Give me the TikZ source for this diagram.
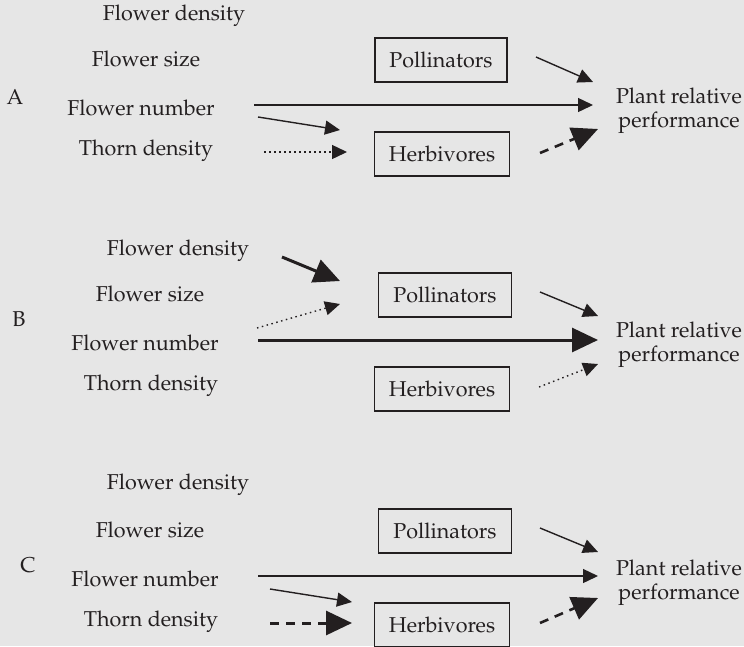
\documentclass[tikz,border=0pt]{standalone}
\usepackage[T1]{fontenc}
\renewcommand{\rmdefault}{ppl}
\usetikzlibrary{arrows.meta}
\definecolor{ink}{HTML}{231F20}
\definecolor{bg}{HTML}{E6E6E6}
\tikzset{
  lbl/.style={font=\fontsize{21.5}{24}\selectfont, text=ink, inner sep=0pt},
  box/.style={lbl, draw=ink, line width=1.2pt, minimum height=44pt},
  thinarrow/.style={draw=ink, line width=1.4pt, -{Triangle[length=15pt,width=14pt]}},
  bigarrow/.style={draw=ink, line width=1.6pt, -{Triangle[length=26pt,width=24pt]}},
  boldarrow/.style={draw=ink, line width=3pt, -{Triangle[length=26pt,width=24pt]}},
  dotline/.style={dash pattern=on 1.5pt off 3.5pt},
  dashline/.style={dash pattern=on 9pt off 7pt},
}
\begin{document}
\begin{tikzpicture}[x=1pt,y=-1pt]
\fill[bg] (0,0) rectangle (744,646);
\useasboundingbox (0,0) rectangle (744,646);

% ---------- Panel A ----------
\node[lbl] (fdA) at (174,16) {Flower density};
\node[lbl] (fsA) at (146,59) {Flower size};
\node[lbl] (labA) at (15,97) {A};
\node[lbl] (fnA) at (141,108) {Flower number};
\node[lbl] (tdA) at (146,151) {Thorn density};
\node[box, minimum width=132pt] (polA) at (441,60) {Pollinators};
\node[box, minimum width=135pt] (herbA) at (442,154) {Herbivores};
\node[lbl, align=center] (plantA) at (679,111) {Plant relative\\performance};
\coordinate (a1s) at (254,105); \coordinate (a1e) at (593,105);
\coordinate (a2s) at (258,117); \coordinate (a2e) at (340,130);
\coordinate (a3s) at (264,152); \coordinate (a3e) at (347,152);
\coordinate (a4s) at (536,57);  \coordinate (a4e) at (593,82);
\coordinate (a5s) at (540,153); \coordinate (a5e) at (598,129);
\draw[thinarrow] (a1s) -- (a1e);
\draw[thinarrow] (a2s) -- (a2e);
\draw[thinarrow, dotline] (a3s) -- (a3e);
\draw[thinarrow] (a4s) -- (a4e);
\draw[bigarrow, line width=2.6pt, dashline] (a5s) -- (a5e);

% ---------- Panel B ----------
\node[lbl] (fdB) at (178,251) {Flower density};
\node[lbl] (fsB) at (150,294) {Flower size};
\node[lbl] (labB) at (19,319) {B};
\node[lbl] (fnB) at (145,343) {Flower number};
\node[lbl] (tdB) at (151,386) {Thorn density};
\node[box, minimum width=133pt] (polB) at (445,295) {Pollinators};
\node[box, minimum width=135pt] (herbB) at (442,389) {Herbivores};
\node[lbl, align=center] (plantB) at (679,345) {Plant relative\\performance};
\coordinate (b1s) at (282,257); \coordinate (b1e) at (340,281);
\coordinate (b2s) at (257,328); \coordinate (b2e) at (340,304);
\coordinate (b3s) at (258,340); \coordinate (b3e) at (598,340);
\coordinate (b4s) at (540,292); \coordinate (b4e) at (598,316);
\coordinate (b5s) at (539,387); \coordinate (b5e) at (598,364);
\draw[boldarrow] (b1s) -- (b1e);
\draw[thinarrow, dotline] (b2s) -- (b2e);
\draw[boldarrow] (b3s) -- (b3e);
\draw[thinarrow] (b4s) -- (b4e);
\draw[thinarrow, dotline] (b5s) -- (b5e);

% ---------- Panel C ----------
\node[lbl] (fdC) at (178,485) {Flower density};
\node[lbl] (fsC) at (150,530) {Flower size};
\node[lbl] (labC) at (28,565) {C};
\node[lbl] (fnC) at (145,579) {Flower number};
\node[lbl] (tdC) at (151,622) {Thorn density};
\node[box, minimum width=133pt] (polC) at (445,531) {Pollinators};
\node[box, minimum width=135pt] (herbC) at (442,625) {Herbivores};
\node[lbl, align=center] (plantC) at (679,583) {Plant relative\\performance};
\coordinate (c1s) at (258,576); \coordinate (c1e) at (598,576);
\coordinate (c2s) at (270,589); \coordinate (c2e) at (352,602);
\coordinate (c3s) at (270,623); \coordinate (c3e) at (352,623);
\coordinate (c4s) at (540,528); \coordinate (c4e) at (598,552);
\coordinate (c5s) at (540,623); \coordinate (c5e) at (598,598);
\draw[thinarrow] (c1s) -- (c1e);
\draw[thinarrow] (c2s) -- (c2e);
\draw[bigarrow, line width=3pt, dashline] (c3s) -- (c3e);
\draw[thinarrow] (c4s) -- (c4e);
\draw[bigarrow, line width=2.6pt, dashline] (c5s) -- (c5e);
\end{tikzpicture}
\end{document}
